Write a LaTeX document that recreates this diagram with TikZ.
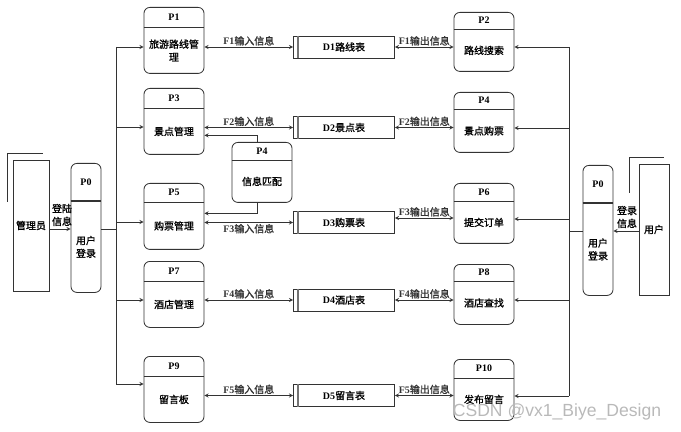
\documentclass[tikz,border=0pt]{standalone}
\usepackage{fontspec}
\setmainfont{Noto Sans CJK SC}[FakeBold=1.3]
\newfontfamily\latin{Liberation Serif}
\newfontfamily\wmfont{Liberation Sans}
\usepackage{xcolor}
\definecolor{dfdLine}{gray}{0.2}
\definecolor{dfdStore}{gray}{0.45}
\usepackage{tikz}
\usetikzlibrary{calc}

\tikzset{
  procbox/.style={draw=dfdLine, line width=0.7pt, rounded corners=5pt, inner sep=0pt},
  storebox/.style={draw=dfdLine, line width=0.7pt, minimum width=3.03cm, minimum height=0.66cm, inner sep=0pt},
  entbox/.style={draw=dfdLine, line width=0.7pt, minimum height=3.93cm, inner sep=0pt},
  flow/.style={<->, dfdLine, line width=0.6pt},
  feed/.style={->, dfdLine, line width=0.6pt},
  lbl/.style={inner sep=1pt, align=center}
}
\newcommand{\tg}[1]{{\latin\bfseries #1}}

\begin{document}
\begin{tikzpicture}[>=stealth, x=0.03cm, y=-0.03cm, font=\fontsize{8.5pt}{11pt}\selectfont]
  \useasboundingbox (0,0) rectangle (681,432);
  % ------- processes -------
  \foreach \n/\x/\y/\w/\h/\hd/\lw/\id/\txt in {
      p1/174/7/60/66/20/0.7/P1/{旅游路线管\\理},
      p3/174/88/60/66/20/0.7/P3/{景点管理},
      p5/174/183/60/66/19/0.7/P5/{购票管理},
      p7/174/261/60/66/20/0.7/P7/{酒店管理},
      p9/174/356/60/66/20/0.7/P9/{留言板},
      p2/484/12/60/59/17/0.7/P2/{路线搜索},
      p4/484/92/60/60/17/0.7/P4/{景点购票},
      p6/484/183/60/60/18/0.7/P6/{提交订单},
      p8/484/264/60/60/17/0.7/P8/{酒店查找},
      p10/484/359/60/61/19/0.7/P10/{发布留言},
      pm/262/142/60/60/18/0.7/P4/{信息匹配},
      p0l/86/163/30/129/38/1.4/P0/{用户\\登录},
      p0r/598/165/30/130/38/1.4/P0/{用户\\登录}} {
    \node[procbox, minimum width=\w*0.03cm, minimum height=\h*0.03cm, anchor=north] (\n) at (\x,\y) {};
    \draw[dfdLine, line width=\lw pt] ([yshift=-\hd*0.03cm]\n.north west) -- ([yshift=-\hd*0.03cm]\n.north east);
    \node (\n-id) at ([yshift=-\hd*0.015cm]\n.north) {\tg{\id}};
    \node[align=center] (\n-txt) at ($(\n.south)!0.5!([yshift=-\hd*0.03cm]\n.north)$) {\txt};
  }
  % ------- data stores -------
  \foreach \n/\y/\k/\lab in {d1/47/D1/路线表, d2/127.5/D2/景点表, d3/222.5/D3/购票表,
      d4/300/D4/酒店表, d5/395.5/D5/留言表} {
    \node[storebox] (\n) at (344,\y) {\tg{\k}\lab};
    \draw[dfdStore, line width=1.3pt] ([xshift=0.15cm]\n.north west) -- ([xshift=0.15cm]\n.south west);
  }
  % ------- flows to and from the stores -------
  \foreach \i/\l/\r/\d in {1/p1/p2/d1, 2/p3/p4/d2, 4/p7/p8/d4, 5/p9/p10/d5} {
    \draw[flow] (\l.east |- \d.west) -- node[lbl, above] {\tg{F\i}输入信息} (\d.west);
    \draw[flow] (\d.east) -- node[lbl, above] {\tg{F\i}输出信息} (\d.east -| \r.west);
  }
  \draw[flow] (p5.east |- d3.west) -- node[lbl, below] {\tg{F3}输入信息} (d3.west);
  \coordinate (d3r) at ([yshift=0.135cm]d3.east);
  \draw[flow] (d3r) -- node[lbl, above] {\tg{F3}输出信息} (d3r -| p6.west);
  % ------- info matching -------
  \draw[feed] ([xshift=-0.15cm]pm.north) |- ([yshift=-0.42cm]p3.east);
  \draw[feed] ([xshift=-0.15cm]pm.south) |- ([yshift=0.09cm]p5.east);
  % ------- left: admin login and bus -------
  \node[entbox, minimum width=1.08cm] (adm) at (31,225.5) {管理员};
  \draw[dfdLine, line width=0.7pt] (7,202) |- (43,153);
  \coordinate (lb) at (116,229);
  \draw[feed] (adm.east |- lb) -- (p0l.west |- lb);
  \node[lbl] (adm-lab) at (62,215) {登陆\\信息};
  \draw[dfdLine, line width=0.6pt] (p0l.east |- lb) -- (lb);
  \foreach \p/\r in {p1/47, p3/127, p5/222, p7/300, p9/384} {
    \coordinate (lb-\p) at (116,\r);
    \draw[feed] (lb-\p) -- (lb-\p -| \p.west);
  }
  \draw[dfdLine, line width=0.6pt] (lb-p1) -- (lb-p9);
  % ------- right: user login and bus -------
  \node[entbox, minimum width=0.9cm] (usr) at (654,229.5) {用户};
  \draw[dfdLine, line width=0.7pt] (629,193) |- (664,157);
  \coordinate (rb) at (569,231);
  \draw[feed] (usr.west |- rb) -- (p0r.east |- rb);
  \node[lbl] (usr-lab) at (627,217) {登录\\信息};
  \draw[dfdLine, line width=0.6pt] (p0r.west |- rb) -- (rb);
  \foreach \p/\r in {p2/47, p4/128, p6/219, p8/300, p10/396} {
    \coordinate (rb-\p) at (569,\r);
    \draw[feed] (rb-\p) -- (rb-\p -| \p.east);
  }
  \draw[dfdLine, line width=0.6pt] (rb-p2) -- (rb-p10);
  % watermark
  \node[text=gray!55, font=\wmfont\fontsize{15pt}{15pt}\selectfont] (wm) at (557,412) {CSDN @vx1\_Biye\_Design};
\end{tikzpicture}
\end{document}
